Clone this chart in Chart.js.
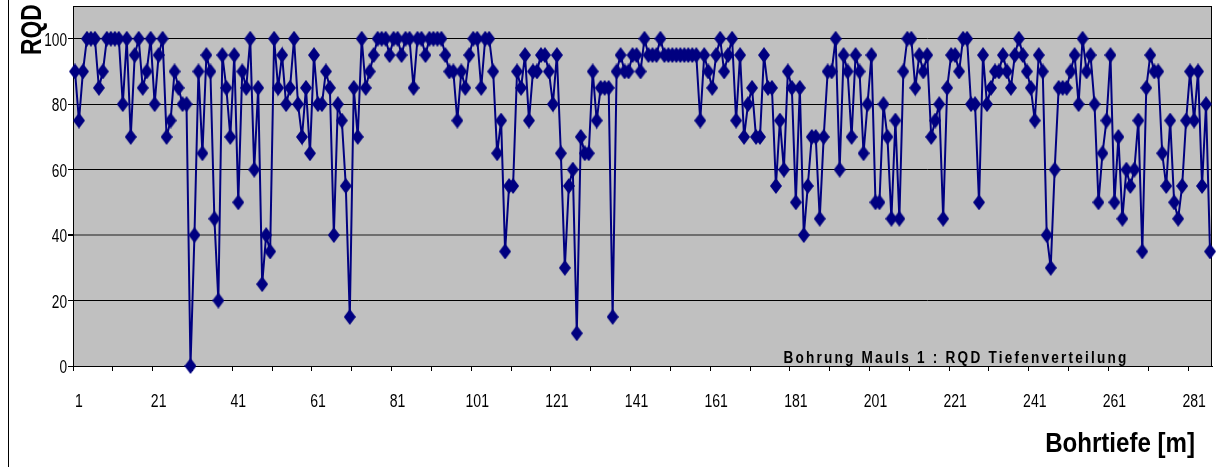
<!DOCTYPE html>
<html>
<head>
<meta charset="utf-8">
<script src="https://cdn.jsdelivr.net/npm/chart.js@4.4.0/dist/chart.umd.min.js"></script>
<style>
  html, body { margin: 0; padding: 0; background: #fff; }
  #contenedor { width: 1218px; height: 467px; position: relative; }
</style>
</head>
<body>
<div id="contenedor"><canvas id="grafico_rqd"></canvas></div>
<script>
//Datos: RQD por metro de perforacion (1..286)
const rqd = [
  90, 75, 90, 100, 100, 100, 85, 90, 100, 100, 100, 100, 80, 100, 70, 95, 100, 85, 90, 100,
  80, 95, 100, 70, 75, 90, 85, 80, 80, 0, 40, 90, 65, 95, 90, 45, 20, 95, 85, 70,
  95, 50, 90, 85, 100, 60, 85, 25, 40, 35, 100, 85, 95, 80, 85, 100, 80, 70, 85, 65,
  95, 80, 80, 90, 85, 40, 80, 75, 55, 15, 85, 70, 100, 85, 90, 95, 100, 100, 100, 95,
  100, 100, 95, 100, 100, 85, 100, 100, 95, 100, 100, 100, 100, 95, 90, 90, 75, 90, 85, 95,
  100, 100, 85, 100, 100, 90, 65, 75, 35, 55, 55, 90, 85, 95, 75, 90, 90, 95, 95, 90,
  80, 95, 65, 30, 55, 60, 10, 70, 65, 65, 90, 75, 85, 85, 85, 15, 90, 95, 90, 90,
  95, 95, 90, 100, 95, 95, 95, 100, 95, 95, 95, 95, 95, 95, 95, 95, 95, 75, 95, 90,
  85, 95, 100, 90, 95, 100, 75, 95, 70, 80, 85, 70, 70, 95, 85, 85, 55, 75, 60, 90,
  85, 50, 85, 40, 55, 70, 70, 45, 70, 90, 90, 100, 60, 95, 90, 70, 95, 90, 65, 80,
  95, 50, 50, 80, 70, 45, 75, 45, 90, 100, 100, 85, 95, 90, 95, 70, 75, 80, 45, 85,
  95, 95, 90, 100, 100, 80, 80, 50, 95, 80, 85, 90, 90, 95, 90, 85, 95, 100, 95, 90,
  85, 75, 95, 90, 40, 30, 60, 85, 85, 85, 90, 95, 80, 100, 90, 95, 80, 50, 65, 75,
  95, 50, 70, 45, 60, 55, 60, 75, 35, 85, 95, 90, 90, 65, 55, 75, 50, 45, 55, 75,
  90, 75, 90, 55, 80, 35
];

//Etiquetas de los ejes
const etiquetasX = [1, 21, 41, 61, 81, 101, 121, 141, 161, 181, 201, 221, 241, 261, 281];
const ticksY = [0, 20, 40, 60, 80, 100];
const titulo = 'Bohrung Mauls 1 : RQD Tiefenverteilung';
const tituloX = 'Bohrtiefe [m]';
const tituloY = 'RQD';

const profundidad = rqd.map((v, i) => String(i + 1));
const fuente = '"Liberation Sans", Arial, sans-serif';

//Marcador: rombo mas alto que ancho
const rombo = document.createElement('canvas');
rombo.width = 12;
rombo.height = 16;
const rctx = rombo.getContext('2d');
rctx.fillStyle = '#000080';
rctx.beginPath();
rctx.moveTo(6, 0);
rctx.lineTo(12, 8);
rctx.lineTo(6, 16);
rctx.lineTo(0, 8);
rctx.closePath();
rctx.fill();

//texto comprimido en horizontal (la imagen original esta achatada)
function textoEscalado(ctx, txt, x, y, sx, align) {
  ctx.save();
  ctx.translate(x, y);
  ctx.scale(sx, 1);
  ctx.textAlign = align;
  ctx.fillText(txt, 0, 0);
  ctx.restore();
}

//Fondo gris, marco y textos
const decoracion = {
  id: 'decoracion',
  beforeDraw(chart) {
    const ctx = chart.ctx;
    const a = chart.chartArea;
    ctx.save();
    ctx.fillStyle = '#ffffff';
    ctx.fillRect(0, 0, chart.width, chart.height);
    ctx.fillStyle = '#c0c0c0';
    ctx.fillRect(a.left, a.top, a.right - a.left, a.bottom - a.top);
    ctx.restore();
  },
  beforeDatasetsDraw(chart) {
    const ctx = chart.ctx;
    const a = chart.chartArea;
    ctx.save();
    ctx.strokeStyle = '#000';
    ctx.lineWidth = 1;
    ctx.strokeRect(a.left + 0.5, a.top + 0.5, a.right - a.left - 1, a.bottom - a.top);
    //marco exterior izquierdo
    ctx.beginPath();
    ctx.moveTo(8.5, 0);
    ctx.lineTo(8.5, chart.height);
    ctx.stroke();
    ctx.restore();
  },
  afterDraw(chart) {
    const ctx = chart.ctx;
    const sx = chart.scales.x;
    const sy = chart.scales.y;
    ctx.save();
    ctx.fillStyle = '#000';
    ctx.textBaseline = 'alphabetic';

    //etiquetas del eje Y
    ctx.font = '18px ' + fuente;
    ticksY.forEach(v => {
      textoEscalado(ctx, String(v), 67, sy.getPixelForValue(v) + 7, 0.76, 'right');
    });

    //etiquetas del eje X
    etiquetasX.forEach(n => {
      textoEscalado(ctx, String(n), sx.getPixelForValue(n - 1) + 4, 407, 0.78, 'center');
    });

    //titulo dentro del grafico
    ctx.font = 'bold 16px ' + fuente;
    ctx.letterSpacing = '2.6px';
    textoEscalado(ctx, titulo, 956, 363, 0.85, 'center');
    ctx.letterSpacing = '0px';

    //titulos de ejes
    ctx.font = 'bold 28px ' + fuente;
    textoEscalado(ctx, tituloX, 1195, 452, 0.86, 'right');

    ctx.font = 'bold 30px ' + fuente;
    ctx.translate(41, 55);
    ctx.rotate(-Math.PI / 2);
    textoEscalado(ctx, tituloY, 0, 0, 0.76, 'left');
    ctx.restore();
  }
};

const grafico_rqd = document.getElementById('grafico_rqd');

let grafico_rqd_OBJ = new Chart(grafico_rqd, {
  type: 'line',
  data: {
    labels: profundidad,
    datasets: [{
      label: 'RQD',
      data: rqd,
      borderColor: '#000080',
      backgroundColor: '#000080',
      borderWidth: 2,
      pointStyle: rombo,
      clip: false,
      tension: 0
    }]
  },
  options: {
    responsive: true,
    maintainAspectRatio: false,
    animation: false,
    layout: { padding: { top: 6, right: 1, left: 0, bottom: 0 } },
    plugins: {
      legend: { display: false },
      tooltip: { enabled: false }
    },
    scales: {
      x: {
        type: 'category',
        offset: true,
        afterFit: (s) => { s.height = 101; },
        border: { color: '#000', width: 1 },
        grid: {
          offset: true,
          drawOnChartArea: false,
          tickLength: 5,
          color: (c) => (c.index % 10 === 0 ? '#000' : 'rgba(0,0,0,0)')
        },
        ticks: { display: false, autoSkip: false }
      },
      y: {
        min: 0,
        max: 110,
        afterFit: (s) => { s.width = 73; },
        afterBuildTicks: (s) => { s.ticks = ticksY.map(v => ({ value: v })); },
        border: { color: '#000', width: 1 },
        grid: {
          color: (c) => (c.tick && c.tick.value === 40 ? '#6e6e6e' : '#000'),
          lineWidth: (c) => (c.tick && c.tick.value === 40 ? 2 : 1),
          tickLength: 5,
          tickColor: '#000'
        },
        ticks: { display: false }
      }
    }
  },
  plugins: [decoracion]
});
</script>
</body>
</html>
